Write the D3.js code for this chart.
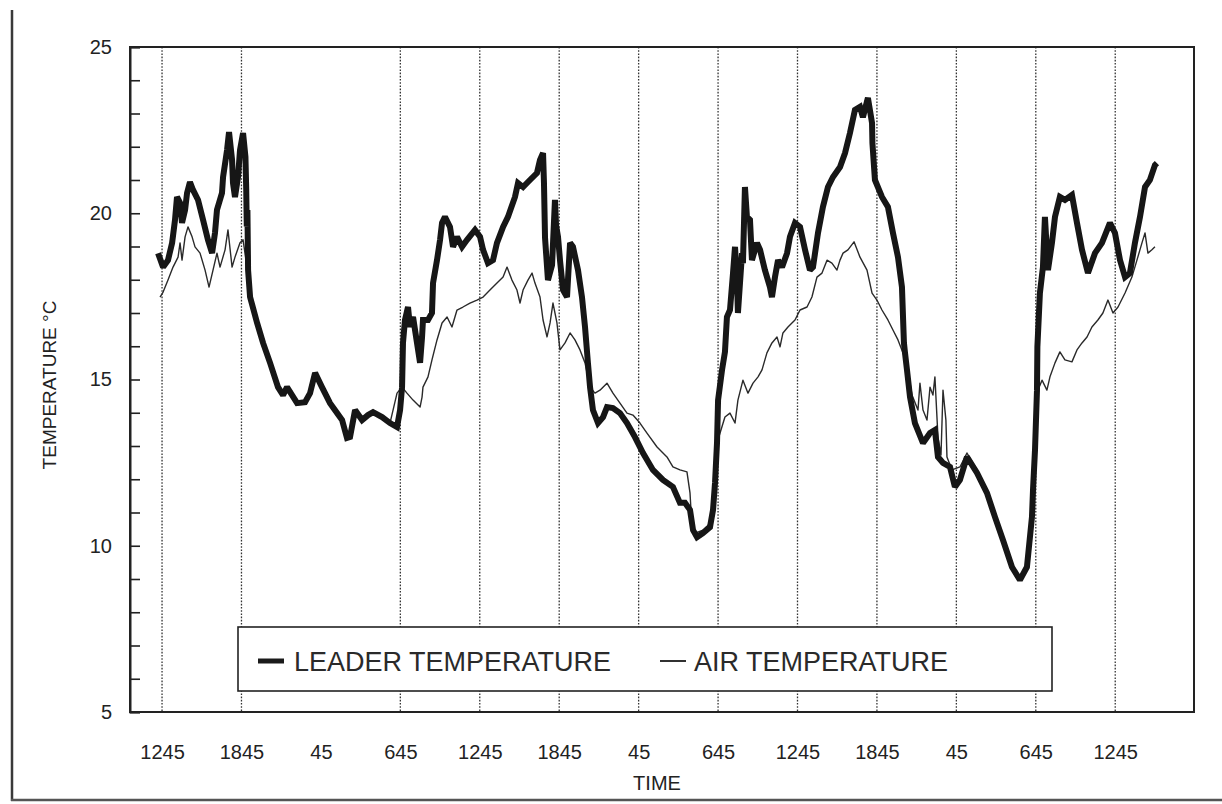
<!DOCTYPE html>
<html>
<head>
<meta charset="utf-8">
<script src="https://cdn.jsdelivr.net/npm/d3@7"></script>
<style>
  html, body { margin: 0; padding: 0; background: #fff; }
  svg { display: block; font-family: "Liberation Sans", Arial, sans-serif; }
</style>
</head>
<body>
<svg id="chart" width="1222" height="804"></svg>
<script>
// ---- DATA (hours after first 12:45 reading, °C) ----
const tickHours  = [0, 6, 12, 18, 24, 30, 36, 42, 48, 54, 60, 66, 72];
const tickLabels = ["1245","1845","45","645","1245","1845","45","645","1245","1845","45","645","1245"];
const gridHours  = [0, 6, 18, 24, 30, 36, 42, 48, 54, 60, 66, 72];
const yLabelTicks = [5, 10, 15, 20, 25];
const yMinorTicks = [5,6,7,8,9,10,11,12,13,14,15,16,17,18,19,20,21,22,23,24,25];
const seriesNames = ["LEADER TEMPERATURE", "AIR TEMPERATURE"];

const leaderTemp = [
[-0.30,18.80],[0.08,18.38],[0.45,18.59],[0.76,19.11],[0.98,19.80],[1.13,20.49],[1.36,20.31],[1.51,19.71],
[1.74,20.10],[1.89,20.61],[2.11,20.94],[2.34,20.70],[2.72,20.40],[3.10,19.80],[3.47,19.20],[3.78,18.80],
[4.00,19.41],[4.15,20.10],[4.53,20.61],[4.61,21.09],[4.91,21.90],[5.06,22.44],[5.29,21.60],[5.36,20.91],
[5.51,20.49],[5.74,21.09],[5.89,21.90],[6.12,22.41],[6.30,21.69],[6.36,20.70],[6.40,19.60],[6.45,20.10],
[6.50,18.29],[6.65,17.48],[7.18,16.70],[7.63,16.10],[8.16,15.50],[8.76,14.77],[9.14,14.53],[9.44,14.77],
[10.20,14.29],[10.80,14.32],[11.18,14.59],[11.56,15.20],[12.08,14.77],[12.69,14.29],[13.22,13.99],[13.60,13.78],
[13.97,13.24],[14.20,13.27],[14.58,14.08],[15.11,13.78],[15.56,13.93],[15.94,14.02],[16.62,13.87],[17.22,13.69],
[17.75,13.57],[17.98,14.08],[18.13,14.77],[18.20,16.10],[18.35,16.79],[18.58,17.18],[18.73,16.58],[18.96,16.88],
[19.26,16.10],[19.49,15.50],[19.64,16.28],[19.71,16.79],[20.09,16.79],[20.39,17.00],[20.47,17.90],[20.77,18.59],
[21.00,19.20],[21.15,19.71],[21.37,19.89],[21.75,19.59],[21.98,18.99],[22.28,19.29],[22.66,18.99],[23.04,19.20],
[23.64,19.50],[24.02,19.29],[24.25,18.90],[24.62,18.50],[25.00,18.59],[25.30,19.11],[25.76,19.59],[26.13,19.89],
[26.66,20.49],[26.89,20.91],[27.27,20.79],[27.79,21.00],[28.32,21.21],[28.55,21.60],[28.78,21.81],[28.85,20.91],
[28.93,19.26],[29.15,17.99],[29.46,18.44],[29.68,20.40],[29.76,19.65],[29.91,19.29],[30.06,18.59],[30.29,17.69],
[30.59,17.48],[30.82,19.11],[31.04,18.99],[31.42,18.29],[31.72,17.48],[31.95,16.58],[32.17,15.50],[32.33,14.77],
[32.55,14.08],[32.93,13.69],[33.31,13.87],[33.61,14.17],[34.06,14.14],[34.59,13.99],[35.12,13.69],[35.72,13.27],
[36.33,12.79],[37.08,12.28],[37.84,11.98],[38.59,11.77],[39.12,11.29],[39.50,11.29],[39.88,11.08],[40.11,10.47],
[40.41,10.26],[40.86,10.38],[41.39,10.56],[41.62,11.08],[41.77,11.89],[41.92,13.09],[42.00,14.38],[42.30,15.29],
[42.52,15.83],[42.67,16.88],[42.90,17.09],[43.13,18.20],[43.28,18.99],[43.43,17.99],[43.50,17.00],[43.81,18.80],
[43.88,18.50],[44.03,20.79],[44.18,19.89],[44.41,19.80],[44.56,18.59],[44.94,19.11],[45.17,18.90],[45.54,18.29],
[45.92,17.78],[46.07,17.48],[46.30,18.08],[46.53,18.59],[46.83,18.38],[47.21,18.80],[47.43,19.29],[47.81,19.71],
[48.19,19.59],[48.57,18.90],[48.94,18.29],[49.17,18.38],[49.55,19.41],[49.92,20.19],[50.30,20.79],[50.68,21.09],
[51.21,21.39],[51.59,21.81],[51.96,22.41],[52.34,23.11],[52.72,23.20],[52.94,22.89],[53.32,23.47],[53.63,22.71],
[53.66,22.11],[53.85,21.00],[54.38,20.49],[54.83,20.19],[55.21,19.41],[55.59,18.68],[55.89,17.78],[56.04,16.10],
[56.12,15.80],[56.27,15.29],[56.50,14.47],[56.87,13.69],[57.48,13.09],[58.01,13.39],[58.38,13.48],[58.61,12.67],
[58.99,12.49],[59.52,12.37],[59.89,11.77],[60.27,11.98],[60.80,12.67],[61.56,12.19],[62.31,11.59],[62.92,10.86],
[63.52,10.17],[64.20,9.36],[64.80,8.97],[65.33,9.36],[65.71,10.86],[65.79,11.68],[65.94,12.88],[66.09,14.68],
[66.12,15.98],[66.31,17.60],[66.54,18.38],[66.69,19.89],[66.92,18.29],[67.22,19.11],[67.45,19.89],[67.82,20.49],
[68.20,20.40],[68.73,20.55],[69.11,19.71],[69.49,18.90],[69.94,18.20],[70.47,18.80],[71.00,19.11],[71.60,19.71],
[71.98,19.41],[72.36,18.59],[72.74,18.08],[73.11,18.20],[73.49,19.11],[73.87,19.89],[74.25,20.79],[74.62,21.00],
[75.00,21.45],[75.15,21.51]
];

const airTemp = [
[-0.15,17.48],[0.08,17.63],[0.45,17.99],[0.83,18.38],[1.21,18.68],[1.36,19.11],[1.51,18.59],[1.74,19.29],
[1.96,19.59],[2.27,19.29],[2.49,18.99],[2.87,18.80],[3.25,18.29],[3.55,17.78],[3.85,18.29],[4.15,18.80],
[4.38,18.38],[4.76,18.90],[4.98,19.50],[5.29,18.38],[5.51,18.68],[5.89,19.11],[6.12,19.20],[6.42,18.38],
[6.65,17.48],[7.18,16.70],[7.63,16.10],[8.16,15.50],[8.76,14.77],[9.14,14.53],[9.44,14.77],[10.20,14.29],
[10.80,14.32],[11.18,14.59],[11.56,15.20],[12.08,14.77],[12.69,14.29],[13.22,13.99],[13.60,13.78],[13.97,13.24],
[14.20,13.27],[14.58,14.08],[15.11,13.78],[15.56,13.93],[15.94,14.02],[16.62,13.87],[17.22,13.69],[17.75,14.59],
[18.13,14.77],[18.50,14.59],[18.96,14.38],[19.49,14.17],[19.64,14.47],[19.71,14.77],[20.09,15.08],[20.39,15.59],
[20.77,16.19],[21.15,16.70],[21.53,16.88],[21.90,16.58],[22.28,17.09],[22.73,17.18],[23.26,17.30],[23.79,17.39],
[24.25,17.48],[24.77,17.69],[25.30,17.90],[25.76,18.08],[26.06,18.38],[26.43,17.99],[26.81,17.69],[27.04,17.30],
[27.27,17.69],[27.64,17.99],[27.95,18.20],[28.17,17.90],[28.55,17.48],[28.78,16.79],[29.08,16.28],[29.31,16.70],
[29.53,17.30],[29.83,16.70],[30.06,15.89],[30.44,16.10],[30.82,16.40],[31.19,16.19],[31.57,15.89],[31.95,15.50],
[32.33,14.77],[32.70,14.59],[33.08,14.68],[33.61,14.89],[34.06,14.59],[34.59,14.29],[35.12,13.99],[35.57,13.93],
[36.10,13.69],[36.63,13.39],[37.39,12.97],[38.14,12.67],[38.59,12.37],[39.12,12.28],[39.65,12.22],[39.88,11.59],
[40.03,10.56],[40.26,10.38],[40.86,10.47],[41.39,10.68],[41.69,11.38],[41.92,13.09],[42.15,13.39],[42.52,13.87],
[42.90,13.99],[43.28,13.69],[43.50,14.38],[43.88,14.98],[44.26,14.59],[44.64,14.89],[45.02,15.08],[45.32,15.29],
[45.69,15.80],[46.07,16.10],[46.45,16.28],[46.68,15.98],[46.90,16.40],[47.28,16.58],[47.81,16.79],[48.19,17.09],
[48.72,17.18],[49.09,17.48],[49.47,18.08],[49.85,18.20],[50.23,18.59],[50.60,18.50],[50.98,18.29],[51.21,18.59],
[51.44,18.80],[51.81,18.90],[52.27,19.14],[52.72,18.68],[53.25,18.29],[53.63,17.60],[54.00,17.39],[54.38,17.09],
[54.83,16.79],[55.21,16.49],[55.59,16.19],[55.97,15.80],[56.27,15.44],[56.65,14.53],[57.10,14.08],[57.25,14.89],
[57.48,14.08],[57.78,13.78],[58.01,14.77],[58.23,14.53],[58.38,15.08],[58.61,13.27],[58.84,12.73],[58.99,14.68],
[59.21,13.78],[59.29,12.67],[59.67,12.28],[60.27,12.37],[60.80,12.79],[61.56,12.28],[62.31,11.68],[62.92,10.92],
[63.52,10.23],[64.20,9.42],[64.80,9.03],[65.33,9.42],[65.71,10.77],[65.79,11.68],[65.94,13.87],[66.16,14.68],
[66.47,14.98],[66.84,14.68],[67.07,15.08],[67.45,15.50],[67.82,15.83],[68.20,15.59],[68.73,15.53],[69.11,15.89],
[69.49,16.10],[69.87,16.28],[70.24,16.58],[70.69,16.79],[71.07,17.00],[71.45,17.39],[71.83,17.00],[72.21,17.18],
[72.74,17.60],[73.26,18.08],[73.64,18.59],[74.02,19.11],[74.25,19.41],[74.47,18.80],[74.77,18.90],[75.00,18.99]
];

// ---- CHART ----
const svg = d3.select("#chart");
const W = 1222, H = 804;
const plot = { left: 130, right: 1194, top: 47, bottom: 712 };

const x = d3.scaleLinear().domain([-2.42, 77.95]).range([plot.left, plot.right]);
const y = d3.scaleLinear().domain([5, 25]).range([plot.bottom, plot.top]);

// page border (scan frame)
svg.append("line").attr("x1", 12).attr("y1", 10).attr("x2", 12).attr("y2", 801)
  .attr("stroke", "#3a3a3a").attr("stroke-width", 2.5);
svg.append("line").attr("x1", 11).attr("y1", 800).attr("x2", W).attr("y2", 800)
  .attr("stroke", "#555").attr("stroke-width", 2.5);

// vertical dotted grid lines
svg.append("g").selectAll("line").data(gridHours).join("line")
  .attr("x1", d => x(d)).attr("x2", d => x(d))
  .attr("y1", plot.top).attr("y2", plot.bottom)
  .attr("stroke", "#333").attr("stroke-width", 1.3)
  .attr("stroke-dasharray", "1.6,1.6");

// series lines
const line = d3.line().x(d => x(d[0])).y(d => y(d[1]));
svg.append("path").datum(airTemp).attr("d", line)
  .attr("fill", "none").attr("stroke", "#2a2a2a").attr("stroke-width", 1.4)
  .attr("stroke-linejoin", "round");
svg.append("path").datum(leaderTemp).attr("d", line)
  .attr("fill", "none").attr("stroke", "#161616").attr("stroke-width", 6)
  .attr("stroke-linejoin", "miter").attr("stroke-miterlimit", 2);

// plot frame
svg.append("rect").attr("x", plot.left).attr("y", plot.top)
  .attr("width", plot.right - plot.left).attr("height", plot.bottom - plot.top)
  .attr("fill", "none").attr("stroke", "#222").attr("stroke-width", 2);

// y axis: inward minor ticks every degree, labels every 5
const yAxis = d3.axisLeft(y).tickValues(yMinorTicks).tickSize(-10).tickPadding(18)
  .tickFormat(d => yLabelTicks.includes(d) ? d : "");
const gy = svg.append("g").attr("transform", `translate(${plot.left},0)`).call(yAxis);
gy.select(".domain").attr("stroke", "#222").attr("stroke-width", 2);
gy.selectAll(".tick line").attr("stroke", "#222").attr("stroke-width", 1.6);
gy.selectAll("text").attr("font-size", 20).attr("fill", "#222")
  .attr("font-family", "Liberation Sans, Arial, sans-serif");

// x axis labels
const xAxis = d3.axisBottom(x).tickValues(tickHours).tickSize(0).tickPadding(33)
  .tickFormat((d, i) => tickLabels[i]);
const gx = svg.append("g").attr("transform", `translate(0,${plot.bottom})`).call(xAxis);
gx.select(".domain").remove();
gx.selectAll("text").attr("font-size", 20).attr("fill", "#222")
  .attr("font-family", "Liberation Sans, Arial, sans-serif");

// axis titles
svg.append("text").attr("x", 657).attr("y", 790).attr("text-anchor", "middle")
  .attr("font-size", 20).attr("fill", "#222").text("TIME");
svg.append("text").attr("transform", "translate(56,385) rotate(-90)")
  .attr("text-anchor", "middle").attr("font-size", 19).attr("fill", "#222")
  .text("TEMPERATURE °C");

// legend
const lg = svg.append("g");
lg.append("rect").attr("x", 238).attr("y", 627).attr("width", 814).attr("height", 64)
  .attr("fill", "#fff").attr("stroke", "#222").attr("stroke-width", 1.6);
const legendItems = [
  { name: seriesNames[0], x0: 258, w: 5, tx: 294 },
  { name: seriesNames[1], x0: 660, w: 1.8, tx: 694 }
];
legendItems.forEach(it => {
  lg.append("line").attr("x1", it.x0).attr("x2", it.x0 + 26).attr("y1", 661).attr("y2", 661)
    .attr("stroke", "#1a1a1a").attr("stroke-width", it.w);
  lg.append("text").attr("x", it.tx).attr("y", 671).attr("font-size", 27)
    .attr("fill", "#2a2a2a").text(it.name);
});
</script>
</body>
</html>
